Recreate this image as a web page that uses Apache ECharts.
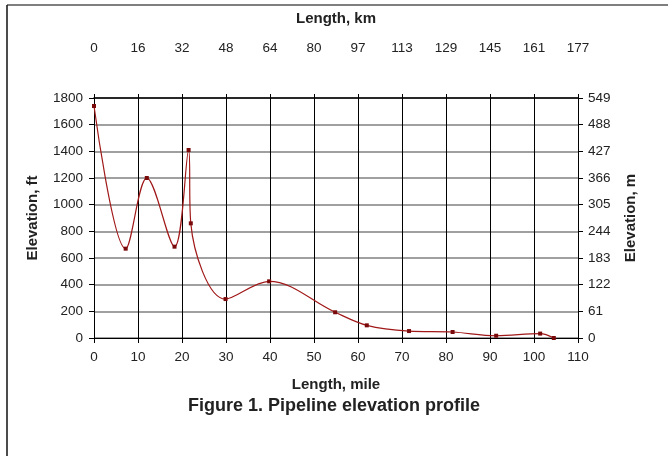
<!DOCTYPE html>
<html>
<head>
<meta charset="utf-8">
<script src="https://cdn.jsdelivr.net/npm/echarts@6/dist/echarts.min.js"></script>
<style>
html,body{margin:0;padding:0;background:#fff;}
#c{width:668px;height:456px;}
</style>
</head>
<body>
<div id="c"></div>
<script>
var miles = [0, 7.2, 12.0, 18.3, 21.5, 22.0, 29.9, 39.8, 54.8, 62.0, 71.6, 81.5, 91.4, 101.4, 104.5];
var elevFt = [1740, 670, 1200, 685, 1410, 860, 292, 425, 193, 95, 52, 45, 17, 33, 0];
var kmLabels = ['0', '16', '32', '48', '64', '80', '97', '113', '129', '145', '161', '177'];
var mLabels = ['0', '61', '122', '183', '244', '305', '366', '427', '488', '549'];

var font = 'Liberation Sans, Arial, sans-serif';
var tickFont = 13.5;
var nameFont = 15;
var chart = echarts.init(document.getElementById('c'), null, {renderer: 'canvas'});
var pts = miles.map(function (m, i) { return [m, elevFt[i]]; });

chart.setOption({
  backgroundColor: '#fff',
  animation: false,
  title: {
    text: 'Figure 1. Pipeline elevation profile',
    left: 'center',
    top: 397,
    padding: 0,
    textStyle: {fontFamily: font, fontSize: 18, fontWeight: 'bold', color: '#222'}
  },
  grid: {left: 94, right: 90, top: 98, bottom: 118, containLabel: false},
  graphic: [
    {type: 'line', shape: {x1: 7, y1: 5, x2: 668, y2: 5}, style: {stroke: '#555', lineWidth: 1.5}},
    {type: 'line', shape: {x1: 7, y1: 5, x2: 7, y2: 456}, style: {stroke: '#111', lineWidth: 1.5}}
  ],
  xAxis: [
    {
      type: 'value', position: 'bottom', min: 0, max: 110, interval: 10,
      name: 'Length, mile', nameLocation: 'middle', nameGap: 39,
      nameTextStyle: {fontFamily: font, fontSize: nameFont, fontWeight: 'bold', color: '#222'},
      axisLine: {show: true, onZero: false, lineStyle: {color: '#000', width: 1}},
      axisTick: {show: true, inside: false, length: 5, lineStyle: {color: '#000'}},
      axisLabel: {margin: 12, fontFamily: font, fontSize: tickFont, color: '#222',
        formatter: function (v) { return String(v); }},
      splitLine: {show: true, lineStyle: {color: '#000', width: 1}}
    },
    {
      type: 'value', position: 'top', min: 0, max: 110, interval: 10,
      name: 'Length, km', nameLocation: 'middle', nameGap: 72,
      nameTextStyle: {fontFamily: font, fontSize: nameFont, fontWeight: 'bold', color: '#222'},
      axisLine: {show: true, onZero: false, lineStyle: {color: '#000', width: 1.5}},
      axisTick: {show: true, inside: false, length: 4, lineStyle: {color: '#000'}},
      axisLabel: {
        margin: 43, fontFamily: font, fontSize: tickFont, color: '#222',
        formatter: function (v) { return kmLabels[Math.round(v / 10)]; }
      },
      splitLine: {show: false}
    }
  ],
  yAxis: [
    {
      type: 'value', position: 'left', min: 0, max: 1800, interval: 200,
      name: 'Elevation, ft', nameLocation: 'middle', nameGap: 54, nameRotate: 90,
      nameTextStyle: {fontFamily: font, fontSize: nameFont, fontWeight: 'bold', color: '#222'},
      axisLine: {show: true, onZero: false, lineStyle: {color: '#000', width: 1}},
      axisTick: {show: true, inside: false, length: 5, lineStyle: {color: '#000'}},
      axisLabel: {margin: 11, fontFamily: font, fontSize: tickFont, color: '#222',
        formatter: function (v) { return String(v); }},
      splitLine: {show: true, lineStyle: {color: '#808080', width: 1.5}}
    },
    {
      type: 'value', position: 'right', min: 0, max: 1800, interval: 200,
      name: 'Elevation, m', nameLocation: 'middle', nameGap: 45, nameRotate: 90,
      nameTextStyle: {fontFamily: font, fontSize: nameFont, fontWeight: 'bold', color: '#222'},
      axisLine: {show: true, onZero: false, lineStyle: {color: '#000', width: 1}},
      axisTick: {show: true, inside: false, length: 5, lineStyle: {color: '#000'}},
      axisLabel: {
        margin: 10, fontFamily: font, fontSize: tickFont, color: '#222',
        formatter: function (v) { return mLabels[Math.round(v / 200)]; }
      },
      splitLine: {show: false}
    }
  ],
  series: [
    {
      type: 'line', xAxisIndex: 0, yAxisIndex: 0,
      data: pts, smooth: 0.35,
      symbol: 'rect', symbolSize: 4,
      itemStyle: {color: '#7a0a0a'},
      lineStyle: {color: '#a01818', width: 1.2}
    }
  ]
});
</script>
</body>
</html>
